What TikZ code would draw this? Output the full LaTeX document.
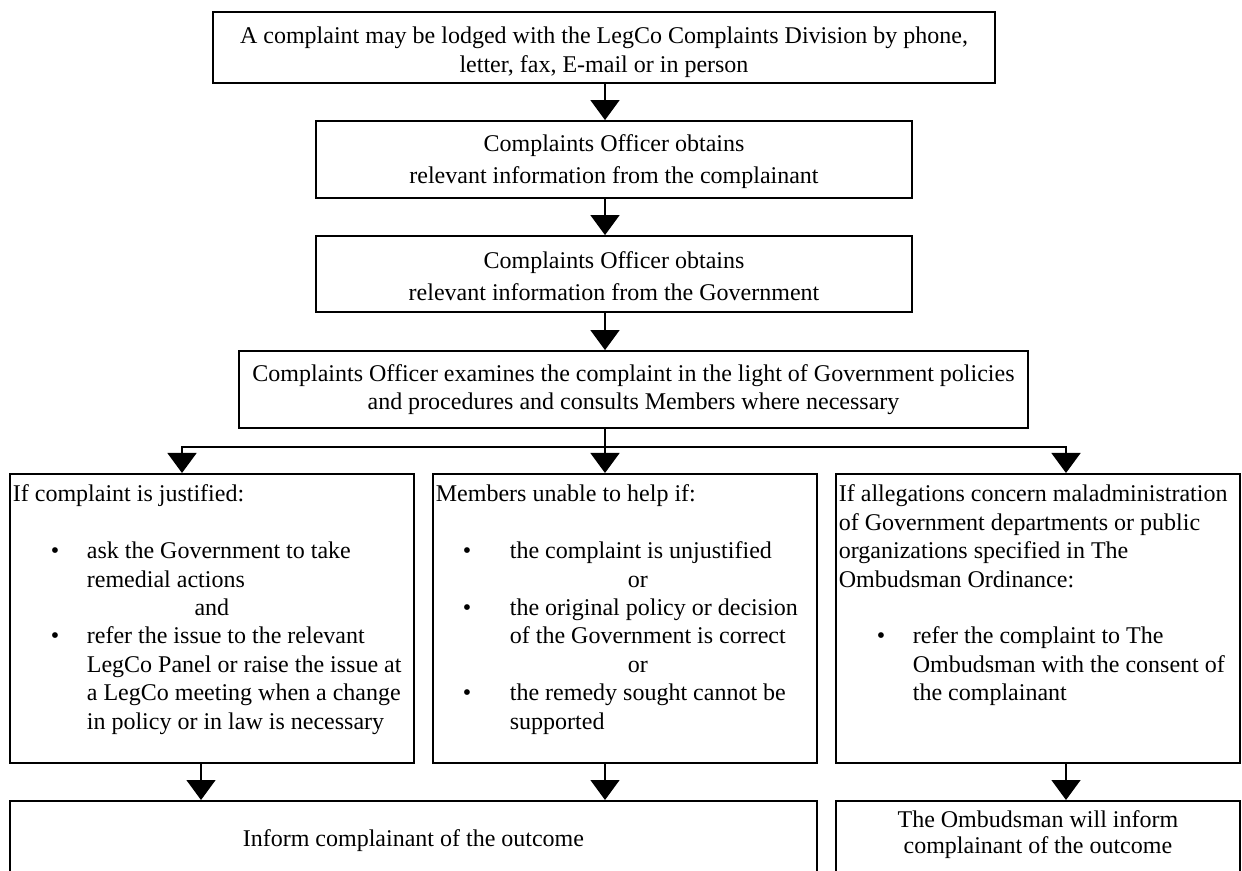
\documentclass[tikz,border=0pt]{standalone}
\usepackage{fontspec}
\setmainfont{Liberation Serif}
\usetikzlibrary{arrows.meta,positioning}

\newcommand{\bul}[2]{\makebox[37pt][l]{\hspace*{#1}\textbullet}#2}
\newcommand{\cont}{\hspace*{37pt}}

\begin{document}
\begin{tikzpicture}[x=0.5pt,y=-0.5pt,
	flowbox/.style={draw,line width=0.9pt,align=center,inner sep=0pt,
		font=\fontsize{12pt}{14.2pt}\selectfont},
	colbox/.style={draw,line width=0.9pt,anchor=north west,inner xsep=1.5pt,inner ysep=0pt,
		font=\fontsize{12pt}{14.2pt}\selectfont},
	arr/.style={line width=0.75pt,-{Triangle[width=14.5pt,length=10pt]}}]
	\useasboundingbox (0,0) rectangle (1242,871);
	\coordinate (spine) at (605,447);
	\coordinate (forkL) at (182,447);
	\coordinate (forkR) at (1066,447);
	\coordinate (dropL) at (201,800);

	\node[flowbox,minimum width=391pt,minimum height=35.5pt] (lodge) at (604,47.5)
		{\rule{0pt}{13pt}A complaint may be lodged with the LegCo Complaints Division by phone,\\ letter, fax, E-mail or in person};
	\node[flowbox,minimum width=298pt,minimum height=38.5pt,font=\fontsize{12pt}{16pt}\selectfont] (fromcomp) at (614,159.5)
		{\rule{0pt}{11pt}Complaints Officer obtains\\ relevant information from the complainant};
	\node[flowbox,minimum width=298pt,minimum height=38pt,font=\fontsize{12pt}{16pt}\selectfont] (fromgov) at (614,274)
		{\rule{0pt}{11pt}Complaints Officer obtains\\ relevant information from the Government};
	\node[flowbox,minimum width=394.5pt,minimum height=38.5pt] (examine) at (633.5,389.5)
		{Complaints Officer examines the complaint in the light of Government policies\\ and procedures and consults Members where necessary};

	\node[colbox] (justified) at (9,473) {\parbox[t][144.5pt][t]{199pt}{\rule{0pt}{14pt}If complaint is justified:\\
		\mbox{}\\
		\bul{19pt}{ask the Government to take}\\
		\cont remedial actions\\
		\makebox[\linewidth]{and}\\
		\bul{19pt}{refer the issue to the relevant}\\
		\cont LegCo Panel or raise the issue at\\
		\cont a LegCo meeting when a change\\
		\cont in policy or in law is necessary}};
	\node[colbox] (unable) at (432,473) {\parbox[t][144.5pt][t]{189pt}{\rule{0pt}{14pt}Members unable to help if:\\
		\mbox{}\\
		\bul{13.5pt}{the complaint is unjustified}\\
		\hspace*{96pt}or\\
		\bul{13.5pt}{the original policy or decision}\\
		\cont of the Government is correct\\
		\hspace*{96pt}or\\
		\bul{13.5pt}{the remedy sought cannot be}\\
		\cont supported}};
	\node[colbox] (ombud) at (835,473) {\parbox[t][144.5pt][t]{199pt}{\rule{0pt}{14pt}If allegations concern maladministration\\
		of Government departments or public\\
		organizations specified in The\\
		Ombudsman Ordinance:\\
		\mbox{}\\
		\bul{19pt}{refer the complaint to The}\\
		\cont Ombudsman with the consent of\\
		\cont the complainant}};

	\node[flowbox,anchor=north west,minimum width=403.5pt,minimum height=40pt] (inform) at (9,800)
		{Inform complainant of the outcome};
	\node[colbox] (ombinform) at (835,800) {\parbox[t][40pt][t]{199pt}{\fontsize{12pt}{13pt}\selectfont\centering
		\rule{0pt}{13.5pt}The Ombudsman will inform\\ complainant of the outcome}};

	\draw[arr] (lodge.south -| spine) -- (fromcomp.north -| spine);
	\draw[arr] (fromcomp.south -| spine) -- (fromgov.north -| spine);
	\draw[arr] (fromgov.south -| spine) -- (examine.north -| spine);
	\draw[arr] (examine.south -| spine) -- (unable.north -| spine);
	\draw[arr] (spine) -| (justified.north -| forkL);
	\draw[arr] (spine) -| (ombud.north -| forkR);
	\draw[arr] (justified.south -| dropL) -- (inform.north -| dropL);
	\draw[arr] (unable.south -| spine) -- (inform.north -| spine);
	\draw[arr] (ombud.south -| forkR) -- (ombinform.north -| forkR);
\end{tikzpicture}
\end{document}
